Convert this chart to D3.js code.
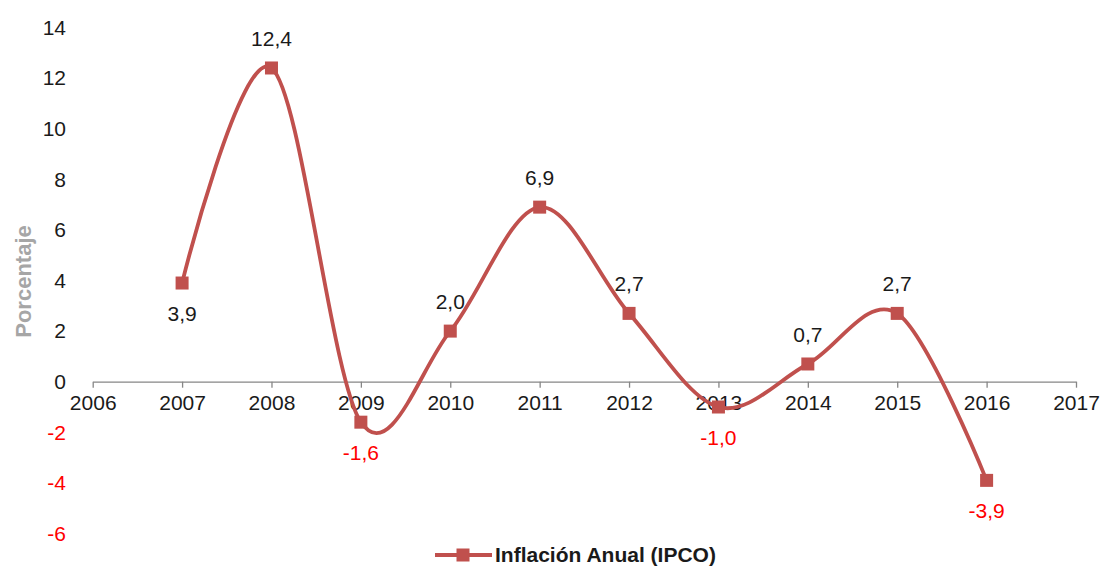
<!DOCTYPE html>
<html>
<head>
<meta charset="utf-8">
<script src="https://cdn.jsdelivr.net/npm/d3@7"></script>
<style>
  html, body { margin: 0; padding: 0; background: #fff; overflow: hidden; }
  svg { display: block; font-family: "Liberation Sans", Arial, sans-serif; }
</style>
</head>
<body>
<svg id="chart" width="1102" height="570"></svg>
<script>
// ---- data ----
const years = [2007, 2008, 2009, 2010, 2011, 2012, 2013, 2014, 2015, 2016];
const inflacion = [3.9, 12.4, -1.6, 2.0, 6.9, 2.7, -1.0, 0.7, 2.7, -3.9];
const xTicks = [2006, 2007, 2008, 2009, 2010, 2011, 2012, 2013, 2014, 2015, 2016, 2017];
const yTicks = [-6, -4, -2, 0, 2, 4, 6, 8, 10, 12, 14];
const seriesName = "Inflación Anual (IPCO)";
const yTitle = "Porcentaje";
// label placement (below the marker for these years)
const labelBelowYears = [2007, 2009, 2013, 2016];

// ---- layout ----
const svg = d3.select("#chart");
const lineColor = "#C0504D";
const x = d3.scaleLinear().domain([2006, 2017]).range([92.7, 1076]);
const y = d3.scaleLinear().domain([-6, 14]).range([533.5, 27.5]);
const fmt = v => v.toFixed(1).replace(".", ",");

// x axis at zero
const xAxis = d3.axisBottom(x).tickValues(xTicks).tickFormat(d => String(d))
  .tickSizeInner(6).tickSizeOuter(0).tickPadding(6);
const gx = svg.append("g").attr("transform", `translate(0,${y(0)})`).call(xAxis);
gx.select(".domain").attr("stroke", "#868686").attr("stroke-width", 1.3);
gx.selectAll(".tick line").attr("stroke", "#868686").attr("stroke-width", 1.3);
gx.selectAll(".tick text").attr("font-size", 21).attr("fill", "#1a1a1a")
  .attr("font-family", "Liberation Sans, Arial, sans-serif").attr("dy", "0.76em");

// y axis labels (no line)
const yAxis = d3.axisLeft(y).tickValues(yTicks).tickFormat(d => String(d))
  .tickSize(0).tickPadding(0);
const gy = svg.append("g").attr("transform", "translate(66,0)").call(yAxis);
gy.select(".domain").remove();
gy.selectAll(".tick text").attr("font-size", 21)
  .attr("font-family", "Liberation Sans, Arial, sans-serif")
  .attr("fill", d => d < 0 ? "#FF0000" : "#1a1a1a");

// y title
svg.append("text")
  .attr("transform", `translate(31,281.5) rotate(-90)`)
  .attr("text-anchor", "middle")
  .attr("font-size", 22).attr("font-weight", "bold").attr("fill", "#A6A6A6")
  .text(yTitle);

// line
const data = years.map((yr, i) => ({ yr, v: inflacion[i] }));
const line = d3.line().x(d => x(d.yr)).y(d => y(d.v)).curve(d3.curveCardinal.tension(0));
svg.append("path").datum(data)
  .attr("d", line).attr("fill", "none")
  .attr("stroke", lineColor).attr("stroke-width", 3.8).attr("stroke-linejoin", "round");

// markers
const ms = 13;
svg.append("g").selectAll("rect").data(data).join("rect")
  .attr("x", d => x(d.yr) - ms / 2).attr("y", d => y(d.v) - ms / 2)
  .attr("width", ms).attr("height", ms).attr("fill", lineColor);

// data labels
svg.append("g").selectAll("text").data(data).join("text")
  .attr("x", d => x(d.yr))
  .attr("y", d => labelBelowYears.includes(d.yr) ? y(d.v) + 38 : y(d.v) - 22)
  .attr("text-anchor", "middle").attr("font-size", 21)
  .attr("fill", d => d.v < 0 ? "#FF0000" : "#1a1a1a")
  .text(d => fmt(d.v));

// legend
const ly = 555;
const lg = svg.append("g");
lg.append("line").attr("x1", 435).attr("x2", 492).attr("y1", ly).attr("y2", ly)
  .attr("stroke", lineColor).attr("stroke-width", 3.8);
lg.append("rect").attr("x", 463 - 6.5).attr("y", ly - 6.5).attr("width", 13).attr("height", 13)
  .attr("fill", lineColor);
lg.append("text").attr("x", 495).attr("y", ly).attr("dy", "0.35em")
  .attr("font-size", 21).attr("font-weight", "bold").attr("fill", "#1a1a1a")
  .text(seriesName);
</script>
</body>
</html>
